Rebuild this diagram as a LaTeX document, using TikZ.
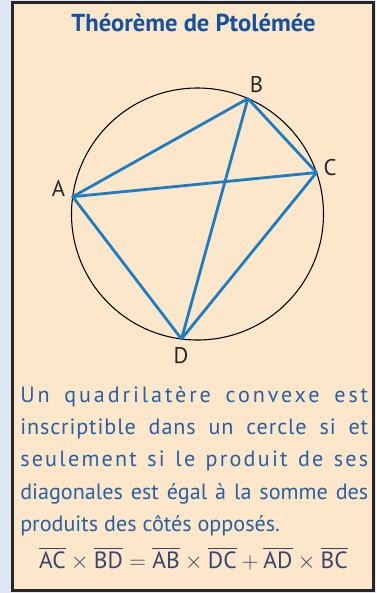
\documentclass[tikz,border=0pt]{standalone}
\usepackage{amsmath}
\usepackage{fontspec}
\setmainfont{PT Sans}
\usetikzlibrary{calc}
\definecolor{ptolfond}{RGB}{253,231,203}
\definecolor{ptolmarge}{RGB}{222,231,243}
\definecolor{ptoltitre}{RGB}{18,82,160}
\definecolor{ptoltexte}{RGB}{40,96,164}
\definecolor{ptolformule}{RGB}{55,68,110}
\definecolor{ptolcorde}{RGB}{28,124,196}
\newcommand{\espace}[2]{{\addfontfeature{LetterSpace=#1}#2}}

\begin{document}
\begin{tikzpicture}[x=0.75pt,y=-0.75pt,
  corde/.style={ptolcorde,line width=2.1pt,line join=round},
  sommet/.style={inner sep=0pt,font=\fontsize{17}{20}\selectfont,text=black!85},
  titre/.style={inner sep=0pt,font=\bfseries\fontsize{18.4}{22}\selectfont,text=ptoltitre},
  enonce/.style={inner sep=0pt,text width=261pt,align=justify,font=\fontsize{16.6}{24.2}\selectfont,text=ptoltexte}]
\useasboundingbox (0,0) rectangle (376,593);
\fill[ptolmarge] (0,0) rectangle (376,593);
\draw[fill=ptolfond,draw=black!85,line width=1.6pt] (12.5,2.5) rectangle (373.5,590.5);
\node[titre,anchor=base] (t) at (193.5,31) {Théorème de Ptolémée};
% cercle et quadrilatere
\coordinate (O) at (197.5,214);
\draw[black,line width=0.8pt] (O) circle[radius=126];
\coordinate (A) at ($(O)+(187.9:126)$);
\coordinate (B) at ($(O)+(293.6:126)$);
\coordinate (C) at ($(O)+(340.8:126)$);
\coordinate (D) at ($(O)+(97.3:126)$);
\draw[corde] (A)--(B)--(C)--(D)--cycle;
\draw[corde] (A)--(C); \draw[corde] (B)--(D);
\node[sommet] (lA) at (58.5,188) {A};
\node[sommet] (lB) at (256.5,85) {B};
\node[sommet] (lC) at (330,168) {C};
\node[sommet] (lD) at (181,356) {D};
% enonce
\node[enonce,anchor=north west] (e) at (20,386) {\espace{13}{Un quadrilatère convexe est}\linebreak
  \espace{4}{inscriptible dans un cercle si et}\linebreak
  \espace{10}{seulement si le produit de ses}\linebreak
  diagonales est égal à la somme des\linebreak produits des côtés opposés.};
\node[inner sep=0pt,anchor=base,text=ptolformule,font=\fontsize{17.6}{20}\selectfont] (f) at (193.5,568)
  {$\overline{\text{AC}}\times\overline{\text{BD}}=\overline{\text{AB}}\times\overline{\text{DC}}+\overline{\text{AD}}\times\overline{\text{BC}}$};
\end{tikzpicture}
\end{document}
